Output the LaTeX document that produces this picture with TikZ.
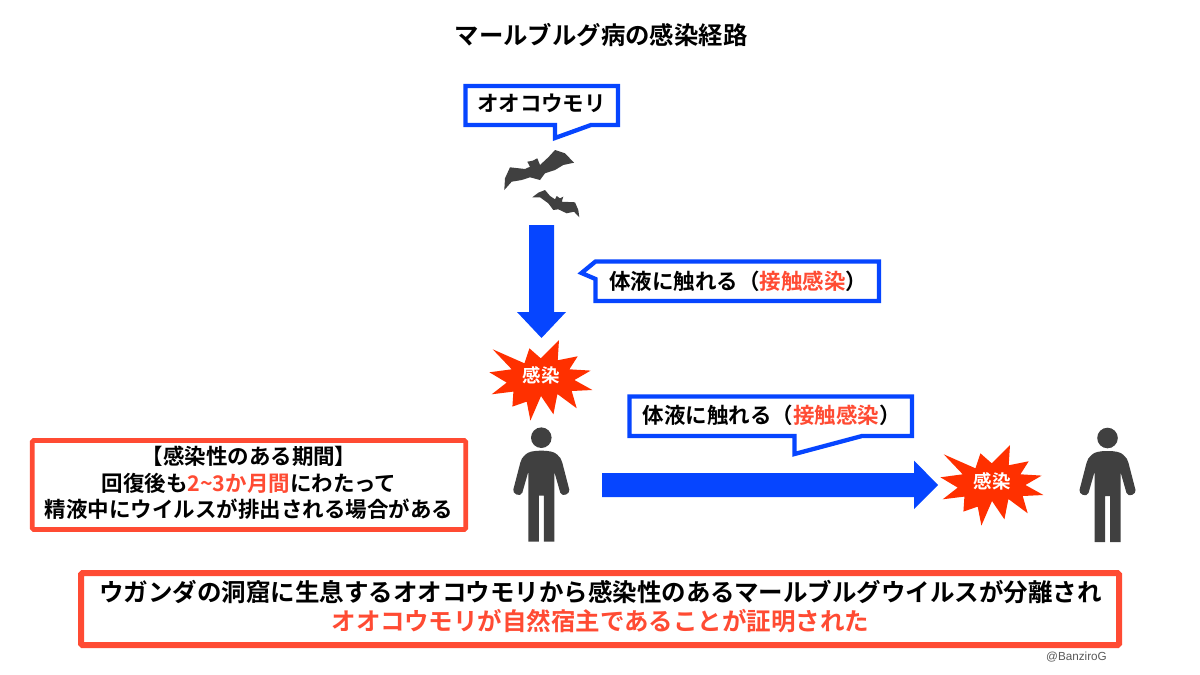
\documentclass[tikz,border=0pt]{standalone}
\usepackage{fontspec}
\setmainfont{Noto Sans CJK JP}[BoldFont={* Bold}]
\setsansfont{Liberation Sans}
\definecolor{bluebox}{HTML}{0645FF}
\definecolor{redbox}{HTML}{FF4B33}
\definecolor{burstred}{HTML}{FF3000}
\definecolor{darkfig}{HTML}{404040}
\definecolor{credit}{HTML}{595959}
\begin{document}
\begin{tikzpicture}[x=1pt,y=-1pt,
      blueline/.style={draw=bluebox,line width=4.3pt,fill=white,line join=miter},
      redline/.style={draw=redbox,fill=white,rounded corners=1.5pt},
      flow/.style={fill=bluebox},
      figure/.style={fill=darkfig},
      label/.style={font=\bfseries\fontsize{21.5}{26.5}\selectfont,align=center,inner sep=0pt},
      bigtext/.style={font=\bfseries\fontsize{24.5}{29.5}\selectfont,align=center,inner sep=0pt},
      bursttext/.style={font=\bfseries\fontsize{18.5}{20}\selectfont,text=white,inner sep=0pt},
      burst/.pic={\fill[burstred] (18.3,-38.3) -- (17,-18) -- (37,-22) -- (28.7,-9) -- (50,-7.7) -- (33.7,1.7) -- (51.7,11.7)
        -- (31,12.7) -- (36,30) -- (16.7,15.7) -- (12.7,36) -- (0.3,17.7) -- (-10.3,42.3) -- (-14,23.3) -- (-28.3,28.3) -- (-27.3,13.3)
        -- (-49,16) -- (-34,4.3) -- (-51.3,-6) -- (-29,-9) -- (-48,-29) -- (-16.3,-15) -- (-11.3,-30) -- (0,-20) -- cycle;},
      person/.pic={\fill[figure] (0,0) circle (10.3);
        \fill[figure] (0,13) .. controls (-8,13) and (-13,14) .. (-16,17) .. controls (-19,19) and (-20,22) .. (-21,25)
          -- (-28,52) .. controls (-29,56) and (-21,60) .. (-19,55) -- (-13,34) -- (-13,104) -- (-2.5,104) -- (-2.5,58)
          -- (2.5,58) -- (2.5,104) -- (13,104) -- (13,34) -- (19,55) .. controls (21,60) and (29,56) .. (28,52)
          -- (21,25) .. controls (20,22) and (19,19) .. (16,17) .. controls (13,14) and (8,13) .. (0,13) -- cycle;}]
    \useasboundingbox (0,0) rectangle (1200,675);

    % title
    \node[font=\bfseries\fontsize{24.4}{30}\selectfont,inner sep=0pt] (title) at (601,35) {マールブルグ病の感染経路};

    % bat callout
    \draw[blueline] (465.5,86) -- (618,86) -- (618,125) -- (591,125) -- (555,138) -- (555,125) -- (465.5,125) -- cycle;
    \node[label] (batname) at (541.5,103.5) {オオコウモリ};

    % bats
    \fill[figure] (574,162.7) -- (565,153.3) -- (555,150) -- (548.3,157.3) -- (540,165) -- (537.3,158.3) -- (532.7,160.7)
      -- (527.3,161.7) -- (530,166.7) -- (525,169) -- (510,167.3) -- (505,178.3) -- (504.3,190) -- (511.7,181.7)
      -- (521.7,180) -- (530,177.3) -- (540,180) -- (545,173.3) -- (555,170) -- (563.3,165) -- cycle;
    \fill[figure] (532.3,197.3) -- (538.3,192.7) -- (545,190) -- (550,196) -- (555,199.3) -- (556.7,196) -- (560,198.3)
      -- (563.3,196.7) -- (561.7,201.7) -- (575,202.3) -- (578.3,210) -- (579.3,217.3) -- (574,211.7) -- (566.7,213.3)
      -- (558.3,209.3) -- (553.3,210) -- (548.3,203.3) -- (540,197.3) -- cycle;

    % first route, bat to person
    \fill[flow] (529,225) -- (554,225) -- (554,312) -- (566,312) -- (541.5,338) -- (517,312) -- (529,312) -- cycle;
    \draw[blueline] (595.5,261.5) -- (879,261.5) -- (879,301) -- (595.5,301) -- (595.5,279) -- (581.5,273) -- cycle;
    \node[label] (touchone) at (738,281) {体液に触れる（{\color{redbox}接触感染}）};
    \pic at (540.7,378.3) {burst};
    \node[bursttext] (burstone) at (541,375) {感染};
    \pic at (541.3,437.7) {person};

    % second route, person to person
    \fill[flow] (602,473) -- (914,473) -- (914,460.5) -- (938,485) -- (914,509) -- (914,497) -- (602,497) -- cycle;
    \draw[blueline] (629.5,396.5) -- (912,396.5) -- (912,436) -- (862,436) -- (794.5,454) -- (794.5,436) -- (629.5,436) -- cycle;
    \node[label] (touchtwo) at (771.5,415) {体液に触れる（{\color{redbox}接触感染}）};
    \pic at (991.7,483.3) {burst};
    \node[bursttext] (bursttwo) at (992,481) {感染};
    \pic at (1107.5,438) {person};

    % period box
    \draw[redline,line width=4.7pt] (32.3,440.5) rectangle (465.7,529.5);
    \node[label] (period) at (249,483)
      {【感染性のある期間】\\回復後も{\color{redbox}2\textasciitilde3か月間}にわたって\\精液中にウイルスが排出される場合がある};

    % conclusion box
    \draw[redline,line width=6pt] (81,573) rectangle (1119,645);
    \node[bigtext] (isolated) at (600.5,606.5)
      {ウガンダの洞窟に生息するオオコウモリから感染性のあるマールブルグウイルスが分離され\\{\color{redbox}オオコウモリが自然宿主であることが証明された}};

    \node[font=\sffamily\fontsize{11.7}{13}\selectfont,text=credit,inner sep=0pt,anchor=east] (credit) at (1107,657) {@BanziroG};
  \end{tikzpicture}
\end{document}
